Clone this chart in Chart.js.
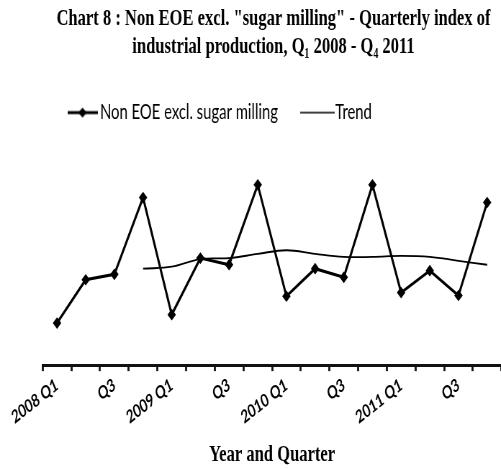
<!DOCTYPE html>
<html>
<head>
<meta charset="utf-8">
<script src="https://cdn.jsdelivr.net/npm/chart.js@4.4.0/dist/chart.umd.min.js"></script>
<style>
html, body { margin: 0; padding: 0; background: #fff; overflow: hidden; }
#wrap { width: 501px; height: 469px; overflow: hidden; }
</style>
</head>
<body>
<div id="wrap">
    <!-- drawn at 703px wide and shown at 506px, the reference is horizontally condensed -->
    <canvas id="chart" width="703" height="469" style="width:506px;height:469px;display:block"></canvas>
</div>
<script>
const quarters = [
    '2008 Q1', '2008 Q2', '2008 Q3', '2008 Q4',
    '2009 Q1', '2009 Q2', '2009 Q3', '2009 Q4',
    '2010 Q1', '2010 Q2', '2010 Q3', '2010 Q4',
    '2011 Q1', '2011 Q2', '2011 Q3', '2011 Q4'
];
const tickLabels = [
    '2008 Q1', '', 'Q3', '',
    '2009 Q1', '', 'Q3', '',
    '2010 Q1', '', 'Q3', '',
    '2011 Q1', '', 'Q3', ''
];
const indexValues = [77.1, 94.7, 96.9, 128.1, 80.5, 103.5, 100.8, 133.3, 88.0, 99.2, 95.7, 133.3, 89.5, 98.4, 88.3, 126.1];
const trendValues = [null, null, null, 99.2, 100.0, 103.1, 103.5, 105.2, 106.7, 105.2, 104.0, 104.0, 104.4, 104.0, 102.4, 100.8];

const titleLines = ['Chart 8 : Non EOE excl. "sugar milling" - Quarterly index of', 'industrial production, Q\u2081 2008 - Q\u2084 2011'];

function legendSample(width, lineWidth, withMarker) {
    const c = document.createElement('canvas');
    c.width = width;
    c.height = 12;
    const g = c.getContext('2d');
    g.strokeStyle = '#000';
    g.lineWidth = lineWidth;
    g.beginPath();
    g.moveTo(0, 6);
    g.lineTo(width, 6);
    g.stroke();
    if (withMarker) {
        g.fillStyle = '#000';
        g.beginPath();
        g.moveTo(width / 2 - 6, 6);
        g.lineTo(width / 2, 1);
        g.lineTo(width / 2 + 6, 6);
        g.lineTo(width / 2, 11);
        g.closePath();
        g.fill();
    }
    return c;
}

const samples = [legendSample(42, 2.8, true), legendSample(48, 1.6, false)];

const ctx = document.getElementById('chart').getContext('2d');
const chart = new Chart(ctx, {
    type: 'line',
    data: {
        labels: quarters,
        datasets: [{
            label: 'Non EOE excl. sugar milling',
            data: indexValues,
            borderColor: '#000',
            backgroundColor: '#000',
            borderWidth: 3,
            pointStyle: 'rectRot',
            pointRadius: 4.8,
            pointBorderWidth: 1.5,
            tension: 0,
            clip: false
        }, {
            label: 'Trend',
            data: trendValues,
            borderColor: '#000',
            borderWidth: 1.8,
            pointRadius: 0,
            tension: 0.4,
            clip: false
        }]
    },
    options: {
        responsive: false,
        devicePixelRatio: 1,
        animation: false,
        events: [],
        layout: {
            padding: { left: 59.3, right: 2.4, top: 5, bottom: 0 }
        },
        plugins: {
            title: {
                display: true,
                text: titleLines,
                color: '#000',
                font: { family: 'Liberation Serif', weight: 'bold', size: 23, lineHeight: 1.217 },
                padding: { top: 0, bottom: 0 }
            },
            legend: {
                display: true,
                position: 'top',
                align: 'start',
                labels: {
                    color: '#000',
                    font: { family: 'Lato', size: 20.6 },
                    usePointStyle: true,
                    pointStyleWidth: 28,
                    padding: 41.3,
                    generateLabels: function (chart) {
                        const items = Chart.defaults.plugins.legend.labels.generateLabels(chart);
                        items.forEach(function (item, i) {
                            item.pointStyle = samples[i];
                        });
                        return items;
                    }
                }
            },
            tooltip: { enabled: false }
        },
        scales: {
            x: {
                offset: true,
                grid: {
                    offset: true,
                    drawOnChartArea: false,
                    drawTicks: true,
                    tickLength: 6,
                    tickWidth: 2.8,
                    tickColor: '#111'
                },
                border: { display: true, color: '#111', width: 3 },
                ticks: {
                    autoSkip: false,
                    minRotation: 30,
                    maxRotation: 30,
                    padding: 3,
                    color: '#000',
                    font: { family: 'Lato', weight: 'bold', size: 18 },
                    callback: function (value, i) {
                        return tickLabels[i];
                    }
                },
                title: {
                    display: true,
                    text: 'Year and Quarter',
                    color: '#000',
                    font: { family: 'Liberation Serif', weight: 'bold', size: 23 },
                    padding: { top: 10, bottom: 0 }
                }
            },
            y: {
                display: false,
                min: 60,
                max: 154.4
            }
        }
    }
});
</script>
</body>
</html>
